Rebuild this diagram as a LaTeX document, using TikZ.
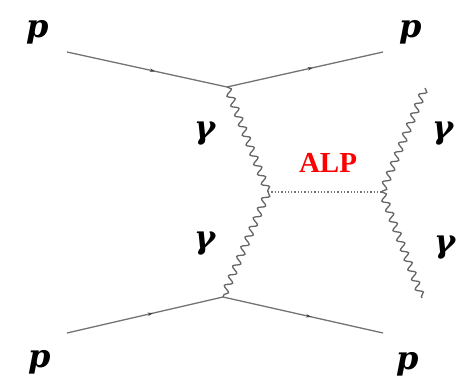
\documentclass[tikz,border=0pt]{standalone}
\usepackage{fontspec}
\setmainfont{Liberation Serif}
\newfontfamily\labfont{DejaVu Serif}
\usetikzlibrary{decorations.pathmorphing,decorations.markings,arrows.meta}
\begin{document}
\begin{tikzpicture}[x=1pt,y=-1pt,
  fermion/.style={draw=black!55,line width=1.3pt,postaction={decorate},
    decoration={markings,mark=at position 0.55 with {\arrow[black!75]{Stealth[length=5pt,width=3.5pt]}}}},
  photon/.style={draw=black!60,line width=1.3pt,decorate,
    decoration={snake,amplitude=3.4pt,segment length=10.5pt}},
  alp/.style={draw=black!55,line width=1.3pt,dotted},
  lab/.style={font=\labfont\fontsize{32}{34}\selectfont\bfseries\itshape,inner sep=0pt},
  alplab/.style={font=\fontsize{29}{31}\selectfont\bfseries,text=red,inner sep=0pt}]
\useasboundingbox (0,0) rectangle (470,387);
\coordinate (a1) at (67,52);
\coordinate (v1) at (227,87);
\coordinate (b1) at (383,52);
\coordinate (a2) at (67,333);
\coordinate (v2) at (223,297);
\coordinate (b2) at (383,333);
\coordinate (m1) at (268,192);
\coordinate (m2) at (382,192);
\coordinate (g1) at (425,88);
\coordinate (g2) at (422,298);
\draw[fermion] (a1) -- (v1);
\draw[fermion] (v1) -- (b1);
\draw[fermion] (a2) -- (v2);
\draw[fermion] (v2) -- (b2);
\draw[photon] (v1) -- (m1);
\draw[photon] (m1) -- (v2);
\draw[photon] (g1) -- (m2);
\draw[photon] (m2) -- (g2);
\draw[alp] (m1) -- (m2);
\node[lab] (p1) at (38,32) {p};
\node[lab] (p2) at (411,32) {p};
\node[lab] (p3) at (40,362) {p};
\node[lab] (p4) at (408,364) {p};
\node[lab] (y1) at (205,134) {γ};
\node[lab] (y2) at (443,134) {γ};
\node[lab] (y3) at (205,244) {γ};
\node[lab] (y4) at (445,248) {γ};
\node[alplab] (alp) at (328,163) {ALP};
\end{tikzpicture}
\end{document}
